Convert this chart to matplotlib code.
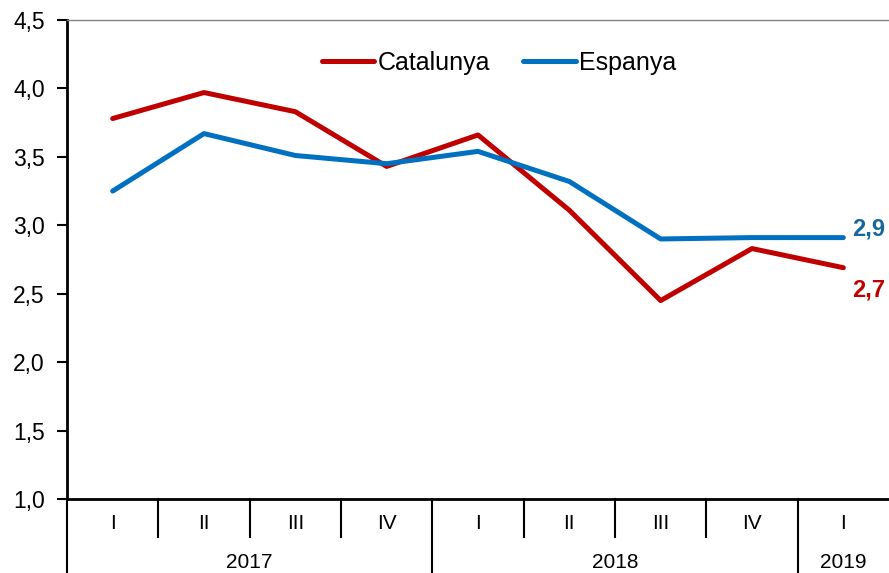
import matplotlib.pyplot as plt
from matplotlib.lines import Line2D

plt.rcParams['font.family'] = ['Liberation Sans', 'DejaVu Sans']

quarters = ['I', 'II', 'III', 'IV', 'I', 'II', 'III', 'IV', 'I']
years = ['2017', '2018', '2019']
year_spans = [(0, 3), (4, 7), (8, 8)]
catalunya = [3.78, 3.97, 3.83, 3.43, 3.66, 3.11, 2.45, 2.83, 2.69]
espanya = [3.25, 3.67, 3.51, 3.45, 3.54, 3.32, 2.90, 2.91, 2.91]

red = '#C00000'
blue = '#0070C0'

fig = plt.figure(figsize=(8.89, 5.73), dpi=100)
ax = fig.add_axes([67 / 889, 1 - 499 / 573, 822 / 889, 479 / 573])

x = list(range(len(quarters)))
ax.plot(x, catalunya, color=red, linewidth=3.6, solid_capstyle='round',
        solid_joinstyle='round', label='Catalunya')
ax.plot(x, espanya, color=blue, linewidth=3.6, solid_capstyle='round',
        solid_joinstyle='round', label='Espanya')

# end labels
ax.annotate(f'{espanya[-1]:.1f}'.replace('.', ','), (x[-1], espanya[-1]),
            xytext=(6, 6), textcoords='offset points', ha='left', va='center',
            fontsize=17, fontweight='bold', color='#17679E')
ax.annotate(f'{catalunya[-1]:.1f}'.replace('.', ','), (x[-1], catalunya[-1]),
            xytext=(6, -16), textcoords='offset points', ha='left', va='center',
            fontsize=17, fontweight='bold', color=red)

ax.set_xlim(-0.5, 8.5)
ax.set_ylim(1.0, 4.5)
yt = [1.0, 1.5, 2.0, 2.5, 3.0, 3.5, 4.0, 4.5]
ax.set_yticks(yt)
ax.set_yticklabels([f'{v:.1f}'.replace('.', ',') for v in yt], fontsize=16.5)
ax.tick_params(axis='y', direction='out', length=7, width=1.5, pad=9)
ax.set_xticks([])

ax.spines['left'].set_linewidth(2)
ax.spines['bottom'].set_linewidth(2)
ax.spines['top'].set_linewidth(1)
ax.spines['top'].set_color('#808080')
ax.spines['right'].set_visible(False)

# two-level category axis
trans = ax.get_xaxis_transform()
for i, q in enumerate(quarters):
    ax.text(i, -0.052, q, transform=trans, ha='center', va='center', fontsize=15)
year_bounds = {-0.5, 3.5, 7.5}
for b in [i - 0.5 for i in range(len(quarters))]:
    bottom = -0.16 if b in year_bounds else -0.08
    ax.add_line(Line2D([b, b], [0, bottom], transform=trans, color='black',
                       linewidth=1.5, clip_on=False))
for label, (a, b) in zip(years, year_spans):
    ax.text((a + b) / 2, -0.132, label, transform=trans, ha='center',
            va='center', fontsize=15)

leg = ax.legend(loc='center', bbox_to_anchor=(0.526, 0.91), ncol=2, frameon=False,
                fontsize=18, handlelength=2.1, handletextpad=0.15, columnspacing=1.3)

fig.savefig('out.png', dpi=100)
